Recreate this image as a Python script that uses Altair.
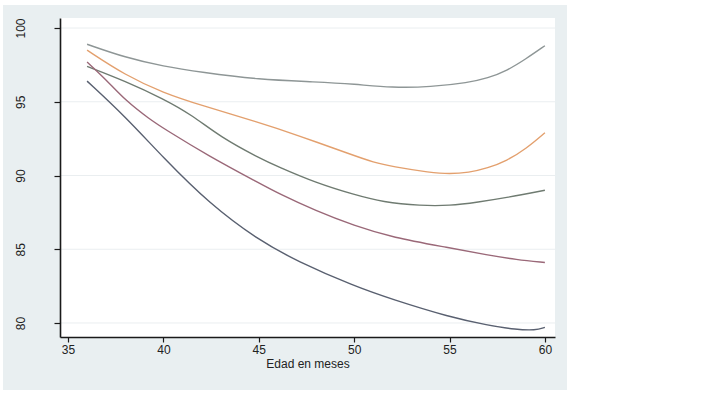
import altair as alt
import pandas as pd

# ---- data ----
x_gray = [36, 38, 40, 42, 45, 48, 50, 52, 54, 56, 57, 58, 59, 60]
y_gray = [98.9, 98.0, 97.4, 97.0, 96.5, 96.35, 96.2, 95.95, 96.0, 96.3, 96.6, 97.1, 97.9, 98.8]

x_orange = [36, 38, 40, 42, 45, 47, 50, 51, 52, 54, 55, 56, 57, 58, 59, 60]
y_orange = [98.5, 96.8, 95.6, 94.75, 93.6, 92.75, 91.35, 90.9, 90.6, 90.2, 90.1, 90.2, 90.5, 91.0, 91.8, 92.9]

x_green = [36, 38, 40, 41.5, 43, 45, 46, 48, 50, 51.5, 53.5, 55, 56.5, 58, 60]
y_green = [97.4, 96.4, 95.2, 94.1, 92.6, 91.2, 90.6, 89.5, 88.7, 88.2, 87.95, 87.95, 88.2, 88.5, 89.0]

x_red = [36, 37, 38, 39.3, 40, 42.4, 45, 46, 48, 50, 52, 55, 57, 58.5, 60]
y_red = [97.7, 96.5, 95.1, 93.8, 93.2, 91.3, 89.5, 88.8, 87.6, 86.6, 85.8, 85.1, 84.6, 84.3, 84.1]

x_dark = [36, 38, 40, 42.4, 45, 47, 50, 52, 55, 57, 58.5, 59.5, 60]
y_dark = [96.4, 94.0, 91.2, 88.1, 85.6, 84.2, 82.5, 81.6, 80.4, 79.85, 79.55, 79.5, 79.7]

series_names = ["s1", "s2", "s3", "s4", "s5"]
series_colors = ["#8e9696", "#e3a06e", "#6f7b71", "#9a6878", "#596070"]

x_ticks = [35, 40, 45, 50, 55, 60]
y_ticks = [80, 85, 90, 95, 100]

rows = []
for name, xs, ys in zip(series_names,
                        [x_gray, x_orange, x_green, x_red, x_dark],
                        [y_gray, y_orange, y_green, y_red, y_dark]):
    for xv, yv in zip(xs, ys):
        rows.append({"serie": name, "edad": xv, "valor": yv})
df = pd.DataFrame(rows)

W, H = 495, 319
xscale = alt.Scale(domain=[34.58, 60.53], nice=False, zero=False)
yscale = alt.Scale(domain=[79.05, 100.68], nice=False, zero=False)

y_axis = alt.Axis(values=y_ticks, title=None, grid=False,
                  domainColor="#1a1a1a", domainWidth=1.6,
                  tickColor="#1a1a1a", tickSize=6, tickWidth=1.2,
                  labelFont="Liberation Sans", labelFontSize=12, labelColor="#222",
                  labelAngle=270, labelAlign="center", labelBaseline="bottom",
                  labelPadding=27, zindex=1)
x_axis = alt.Axis(values=x_ticks, title="Edad en meses", grid=False,
                  domainColor="#1a1a1a", domainWidth=1.6,
                  tickColor="#1a1a1a", tickSize=5, tickWidth=1.2,
                  labelFont="Liberation Sans", labelFontSize=12, labelColor="#222",
                  labelPadding=2, titleFont="Liberation Sans", titleFontSize=12,
                  titleFontWeight="normal", titleColor="#222", titlePadding=3,
                  zindex=1)

bg = alt.Chart(alt.Data(values=[{}])).mark_rect(color="#e9eff1").encode(
    x=alt.value(-57), x2=alt.value(507), y=alt.value(-13), y2=alt.value(372)
)
plotbg = alt.Chart(alt.Data(values=[{}])).mark_rect(color="#ffffff").encode(
    x=alt.value(0), x2=alt.value(W), y=alt.value(0), y2=alt.value(H)
)
grid = alt.Chart(pd.DataFrame({"valor": y_ticks})).mark_rule(color="#eaeef0", strokeWidth=1).encode(
    y=alt.Y("valor:Q", scale=yscale, axis=y_axis),
    x=alt.value(0), x2=alt.value(W)
)

lines = alt.Chart(df).mark_line(strokeWidth=1.4, interpolate="basis").encode(
    x=alt.X("edad:Q", scale=xscale, axis=x_axis),
    y=alt.Y("valor:Q", scale=yscale, axis=y_axis),
    color=alt.Color("serie:N", scale=alt.Scale(domain=series_names, range=series_colors), legend=None),
    detail="serie:N",
)

chart = alt.layer(bg, plotbg, grid, lines).properties(
    width=W, height=H,
    autosize=alt.AutoSizeParams(type="none"),
    padding={"left": 60, "top": 18, "right": 161, "bottom": 57},
).configure_view(stroke=None).configure(background="#ffffff")

chart.save("out.html", embed_options={"renderer": "svg", "actions": False})
